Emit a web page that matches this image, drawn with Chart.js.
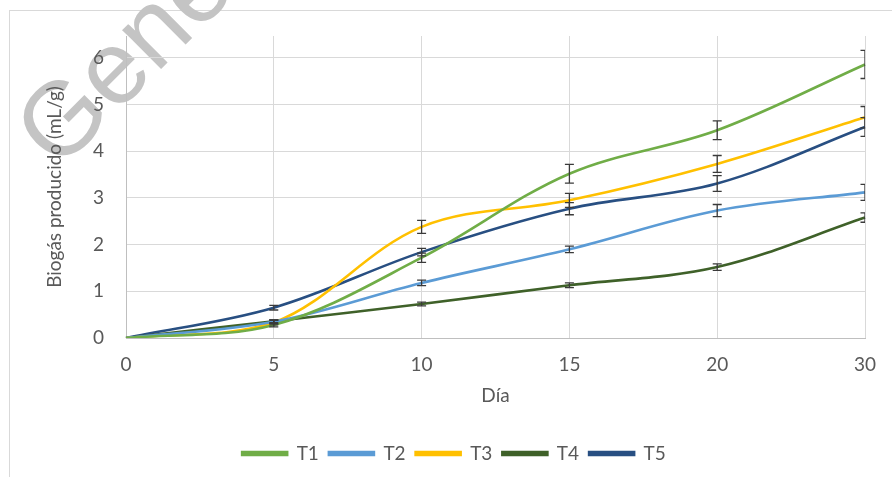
<!DOCTYPE html>
<html>
<head>
<meta charset="utf-8">
<script src="https://cdn.jsdelivr.net/npm/chart.js@4.4.1/dist/chart.umd.min.js"></script>
<style>
  html, body { margin: 0; padding: 0; background: #ffffff; }
  #wrap { width: 892px; height: 477px; position: relative; }
</style>
</head>
<body>
<div id="wrap"><canvas id="c" width="892" height="477"></canvas></div>
<script>
// Sampling days (category axis) and mean biogas yield per treatment (mL/g)
const days = ['0', '5', '10', '15', '20', '30'];
const seriesNames = ['T1', 'T2', 'T3', 'T4', 'T5'];
const t1 = [0, 0.28, 1.72, 3.52, 4.45, 5.86];
const t2 = [0, 0.35, 1.18, 1.90, 2.73, 3.12];
const t3 = [0, 0.33, 2.38, 2.95, 3.73, 4.73];
const t4 = [0, 0.36, 0.73, 1.13, 1.52, 2.58];
const t5 = [0, 0.65, 1.84, 2.77, 3.31, 4.52];
// Half-width of the error bars (±)
const e1 = [0, 0.04, 0.10, 0.20, 0.20, 0.30];
const e2 = [0, 0.04, 0.06, 0.07, 0.13, 0.17];
const e3 = [0, 0.05, 0.14, 0.15, 0.18, 0.23];
const e4 = [0, 0.03, 0.04, 0.05, 0.07, 0.10];
const e5 = [0, 0.05, 0.08, 0.13, 0.17, 0.20];
const yTicks = [0, 1, 2, 3, 4, 5, 6];

const colors = ['#70AD47', '#5B9BD5', '#FFC000', '#3F6129', '#284F82'];
const values = [t1, t2, t3, t4, t5];
const errors = [e1, e2, e3, e4, e5];

const FONT = 'Lato, "Open Sans", sans-serif';
const TEXT = '#595959';

// White background, outer frame and the grey diagonal lettering underneath
const framePlugin = {
  id: 'frame',
  beforeDraw(chart) {
    const ctx = chart.ctx;
    ctx.save();
    ctx.fillStyle = '#ffffff';
    ctx.fillRect(0, 0, chart.width, chart.height);
    ctx.strokeStyle = '#d9d9d9';
    ctx.lineWidth = 1;
    ctx.strokeRect(9.5, 10.5, chart.width + 20, chart.height + 20);
    ctx.translate(58, 172);
    ctx.rotate(-45 * Math.PI / 180);
    ctx.font = '104px "Liberation Sans", Arial, sans-serif';
    ctx.fillStyle = 'rgb(196,196,196)';
    ctx.textBaseline = 'alphabetic';
    ctx.fillText('Gene', 0, 0);
    ctx.restore();
  }
};

// Vertical error bars with caps, clipped to the plot area
const errorBarPlugin = {
  id: 'errorBars',
  afterDatasetsDraw(chart) {
    const ctx = chart.ctx;
    const area = chart.chartArea;
    const ys = chart.scales.y;
    ctx.save();
    ctx.beginPath();
    ctx.rect(area.left, area.top - 20, area.right - area.left, area.bottom - area.top + 20);
    ctx.clip();
    ctx.strokeStyle = '#3a3a3a';
    ctx.lineWidth = 1.3;
    chart.data.datasets.forEach((ds, i) => {
      const meta = chart.getDatasetMeta(i);
      const errs = errors[i];
      meta.data.forEach((pt, j) => {
        const e = errs[j];
        if (!e) return;
        const v = ds.data[j];
        const x = pt.x;
        const yt = ys.getPixelForValue(v + e);
        const yb = ys.getPixelForValue(v - e);
        ctx.beginPath();
        ctx.moveTo(x, yt); ctx.lineTo(x, yb);
        ctx.moveTo(x - 4.5, yt); ctx.lineTo(x + 4.5, yt);
        ctx.moveTo(x - 4.5, yb); ctx.lineTo(x + 4.5, yb);
        ctx.stroke();
      });
    });
    ctx.restore();
  }
};

new Chart(document.getElementById('c'), {
  type: 'line',
  data: {
    labels: days,
    datasets: seriesNames.map((name, i) => ({
      label: name,
      data: values[i],
      borderColor: colors[i],
      backgroundColor: colors[i],
      borderWidth: 2.6,
      pointRadius: 0,
      pointHoverRadius: 0,
      tension: 0.35,
      fill: false
    }))
  },
  options: {
    responsive: false,
    animation: false,
    devicePixelRatio: 1,
    layout: { padding: { left: 43, right: 27, top: 36, bottom: 4 } },
    plugins: {
      tooltip: { enabled: false },
      legend: {
        position: 'bottom',
        labels: {
          boxWidth: 45,
          boxHeight: 3,
          padding: 10,
          color: TEXT,
          font: { family: FONT, size: 19 }
        }
      }
    },
    scales: {
      x: {
        type: 'category',
        offset: false,
        grid: { color: '#d9d9d9', drawTicks: false, lineWidth: 1 },
        border: { color: '#bfbfbf' },
        ticks: { color: TEXT, font: { family: FONT, size: 19 }, padding: 15, maxRotation: 0, autoSkip: false },
        title: { display: true, text: 'Día', color: TEXT, font: { family: FONT, size: 19 }, padding: { top: 0, bottom: 27 } },
        afterFit(scale) { scale.height = 96; }
      },
      y: {
        min: 0,
        max: 6.47,
        grid: { color: '#d9d9d9', drawTicks: false, lineWidth: 1 },
        border: { color: '#bfbfbf' },
        ticks: { color: TEXT, font: { family: FONT, size: 19 }, padding: 22, stepSize: 1 },
        afterBuildTicks(scale) { scale.ticks = yTicks.map(v => ({ value: v })); },
        title: { display: true, text: 'Biogás producido (mL/g)', color: TEXT, font: { family: FONT, size: 19 }, padding: { top: 0, bottom: 0 } },
        afterFit(scale) { scale.width = 83; }
      }
    }
  },
  plugins: [framePlugin, errorBarPlugin]
});
</script>
</body>
</html>
